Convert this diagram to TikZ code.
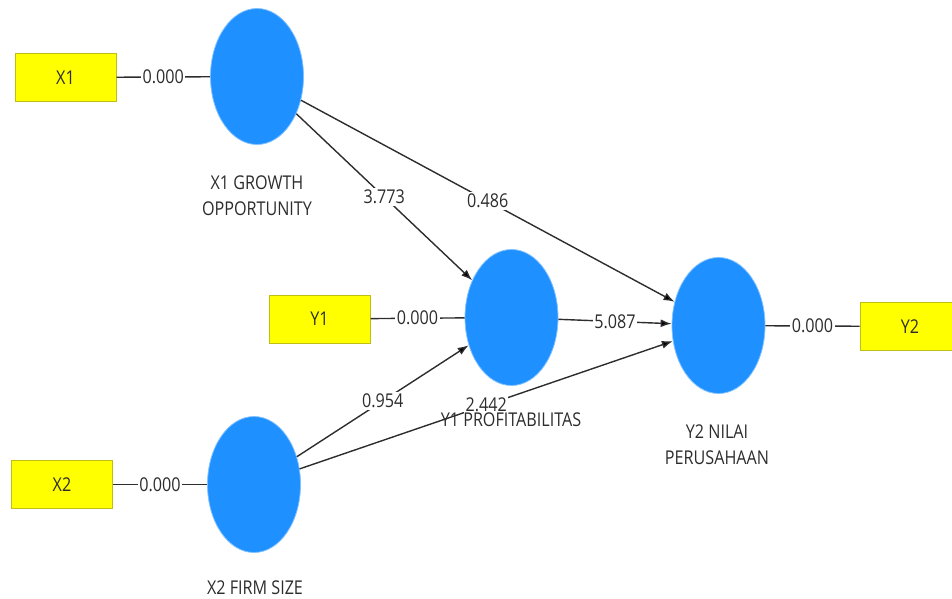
\documentclass[tikz,border=0pt]{standalone}
\usepackage{fontspec}
\setmainfont[FakeStretch=0.85]{Open Sans}
\usetikzlibrary{shapes.geometric,arrows.meta}
\definecolor{lvblue}{RGB}{30,144,255}
\definecolor{mvyellow}{RGB}{255,255,0}
\definecolor{mvborder}{RGB}{190,190,20}
\definecolor{linegray}{RGB}{45,45,45}
\definecolor{txtgray}{RGB}{45,45,45}
\begin{document}
\begin{tikzpicture}[x=1pt,y=-1pt,
 latent/.style={ellipse, fill=lvblue, draw=lvblue!55!white, line width=0.8pt, inner sep=0pt, minimum width=93pt, minimum height=136pt},
 manifest/.style={rectangle, fill=mvyellow, draw=mvborder, line width=1pt, inner sep=0pt, minimum width=101pt, minimum height=48pt, font=\fontsize{19}{19}\selectfont, text=txtgray},
 conn/.style={draw=linegray, line width=1.4pt},
 relarrow/.style={conn, -{Latex[length=11pt,width=8pt,fill=black]}},
 coef/.style={fill=white, inner sep=1.5pt, font=\fontsize{19}{19}\selectfont, text=txtgray},
 lvcaption/.style={align=center, font=\fontsize{19}{26}\selectfont, text=txtgray}
]
\useasboundingbox (0,0) rectangle (952,598);

% latent variables
\node[latent] (X1c) at (257,76.5) {};
\node[latent] (Y1c) at (511.5,317.5) {};
\node[latent] (X2c) at (254,484.5) {};
\node[latent] (Y2c) at (718.5,325.5) {};

% indicators
\node[manifest] (X1) at (65.5,77.5) {X1};
\node[manifest] (Y1) at (319.5,319) {Y1};
\node[manifest] (X2) at (62,484.5) {X2};
\node[manifest, minimum width=100pt] (Y2) at (910,326.5) {Y2};

% measurement links
\draw[conn] (X1) -- node[coef] {0.000} (X1c);
\draw[conn] (Y1) -- node[coef] {0.000} (Y1c);
\draw[conn] (X2) -- node[coef] {0.000} (X2c);
\draw[conn] (Y2c) -- node[coef] {0.000} (Y2);

% structural paths
\draw[relarrow] (X1c) -- node[coef] {0.486} (Y2c);
\draw[relarrow] (X1c) -- node[coef] {3.773} (Y1c);
\draw[relarrow] (X2c) -- node[coef] {0.954} (Y1c);
\draw[relarrow] (X2c) -- node[coef] {2.442} (Y2c);
\draw[relarrow] (Y1c) -- node[coef] {5.087} (Y2c);

% captions
\node[lvcaption] (X1cap) at (257,196) {X1 GROWTH\\OPPORTUNITY};
\node[lvcaption] (Y1cap) at (511,420) {Y1 PROFITABILITAS};
\node[lvcaption] (Y2cap) at (717,445) {Y2 NILAI\\PERUSAHAAN};
\node[lvcaption] (X2cap) at (255,588) {X2 FIRM SIZE};
\end{tikzpicture}
\end{document}
